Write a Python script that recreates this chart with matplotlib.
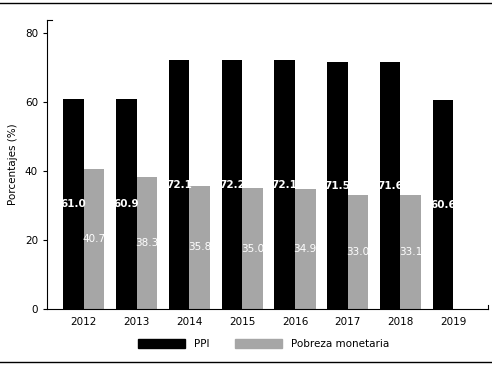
import numpy as np
import matplotlib
matplotlib.use("Agg")
import matplotlib.pyplot as plt
from matplotlib.lines import Line2D
from matplotlib.patches import Patch

years = ["2012", "2013", "2014", "2015", "2016", "2017", "2018", "2019"]
ppi = [61.0, 60.9, 72.1, 72.2, 72.1, 71.5, 71.6, 60.6]
pobreza = [40.7, 38.3, 35.8, 35.0, 34.9, 33.0, 33.1]

gray = "#a6a6a6"
plt.rcParams["font.family"] = "DejaVu Sans"

fig = plt.figure(figsize=(4.92, 3.67), dpi=100)
ax = fig.add_axes([0.0955, 0.158, 0.8965, 0.7875])

x = np.arange(len(years))
w = 0.39
ax.bar(x - w / 2, ppi, w, color="black")
ax.bar(x[:len(pobreza)] + w / 2, pobreza, w, color=gray)

for i, v in enumerate(ppi):
    ax.text(x[i] - w / 2, v / 2, "%.1f" % v, color="white", fontsize=7.5,
            fontweight="bold", ha="center", va="center")
for i, v in enumerate(pobreza):
    ax.text(x[i] + w / 2, v / 2, "%.1f" % v, color="white", fontsize=7.5,
            ha="center", va="center")

ax.set_xlim(-0.70, 7.66)
ax.set_ylim(0, 83.8)
ax.set_yticks([0, 20, 40, 60, 80])
ax.set_xticks(x)
ax.set_xticklabels(years)
ax.tick_params(axis="both", labelsize=7.5, length=3, width=0.8)
ax.tick_params(axis="x", length=0, pad=6)
ax.set_ylabel("Porcentajes (%)", fontsize=7.5, labelpad=5)

ax.spines["top"].set_visible(False)
ax.spines["right"].set_bounds(0, 1.3)
ax.spines["left"].set_linewidth(0.8)
ax.spines["bottom"].set_linewidth(0.8)
ax.spines["right"].set_linewidth(0.8)
ax.add_line(Line2D([0, 0.012], [1, 1], transform=ax.transAxes, color="black",
                   lw=0.8, clip_on=False))

handles = [Patch(color="black"), Patch(color=gray)]
fig.legend(handles, ["PPI", "Pobreza monetaria"], loc="center",
           bbox_to_anchor=(0.536, 0.063), ncol=2, frameon=False, fontsize=7.5,
           handlelength=4.5, handleheight=1.0, handletextpad=0.9,
           columnspacing=2.4)

fig.add_artist(Line2D([0, 1], [0.992, 0.992], transform=fig.transFigure,
                      color="black", lw=1))
fig.add_artist(Line2D([0, 1], [0.014, 0.014], transform=fig.transFigure,
                      color="black", lw=1))

fig.savefig("out.png", dpi=100)
